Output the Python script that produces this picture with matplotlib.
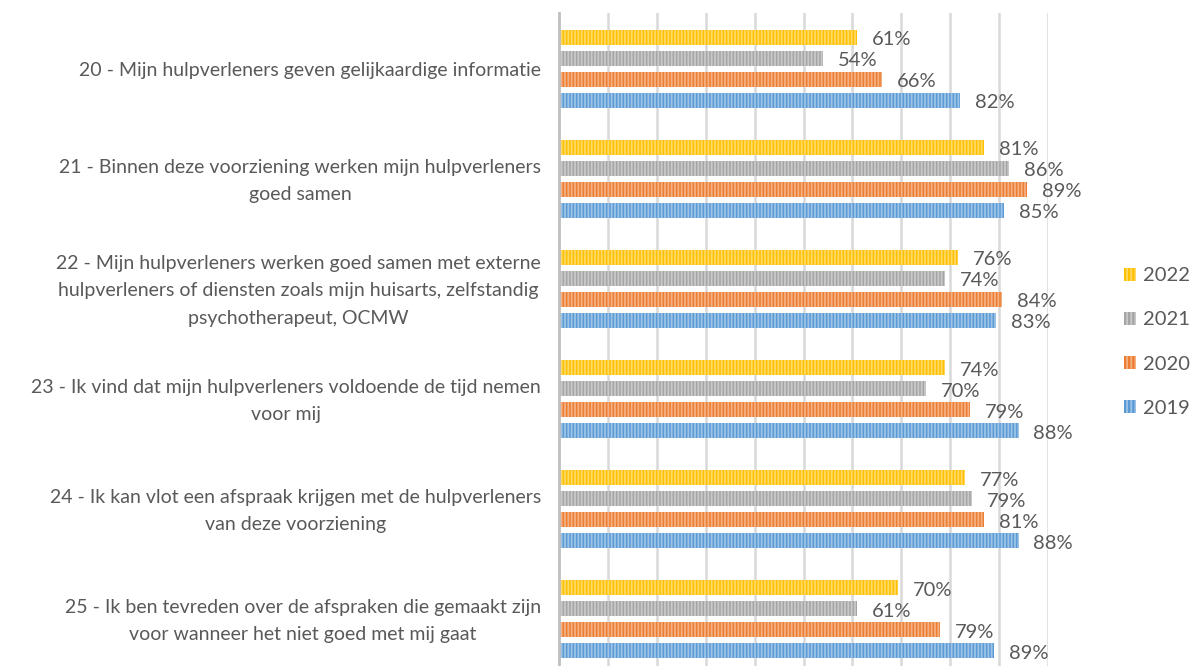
import numpy as np
import matplotlib
matplotlib.use('Agg')
import matplotlib.pyplot as plt
from matplotlib.patches import Patch

plt.rcParams['font.family'] = ['Lato', 'DejaVu Sans']
plt.rcParams['hatch.linewidth'] = 1.3

# questions (top to bottom)
questions = [
    "20 - Mijn hulpverleners geven gelijkaardige informatie",
    "21 - Binnen deze voorziening werken mijn hulpverleners\ngoed samen",
    "22 - Mijn hulpverleners werken goed samen met externe\nhulpverleners of diensten zoals mijn huisarts, zelfstandig\npsychotherapeut, OCMW",
    "23 - Ik vind dat mijn hulpverleners voldoende de tijd nemen\nvoor mij",
    "24 - Ik kan vlot een afspraak krijgen met de hulpverleners\nvan deze voorziening",
    "25 - Ik ben tevreden over de afspraken die gemaakt zijn\nvoor wanneer het niet goed met mij gaat",
]
years = ['2022', '2021', '2020', '2019']

# bar lengths as drawn in the picture (% of axis)
bars_2022 = [61, 87, 81.6, 79, 83, 69.3]
bars_2021 = [54, 92, 79, 75, 84.5, 61]
bars_2020 = [66, 95.7, 90.6, 84, 87, 78]
bars_2019 = [82, 91, 89.4, 94, 94, 89]

# data labels as printed
lab_2022 = [61, 81, 76, 74, 77, 70]
lab_2021 = [54, 86, 74, 70, 79, 61]
lab_2020 = [66, 89, 84, 79, 81, 79]
lab_2019 = [82, 85, 83, 88, 88, 89]

colors = ['#FFC000', '#A5A5A5', '#ED7D31', '#5B9BD5']
stripes = ['#FFD966', '#C9C9C9', '#F4B183', '#9DC3E6']

bars = [bars_2022, bars_2021, bars_2020, bars_2019]
labels = [lab_2022, lab_2021, lab_2020, lab_2019]

fig = plt.figure(figsize=(11.95, 6.66), dpi=100)
ax = fig.add_axes([559 / 1195, 0.0, (1048 - 559) / 1195, 1 - 13 / 666])

pitch = 21 / 110
height = 15 / 110
y = np.arange(len(questions))
for k in range(4):
    pos = y - 1.5 * pitch + k * pitch
    ax.barh(pos, bars[k], height=height, color=colors[k], edgecolor=stripes[k],
            linewidth=0, hatch='|||||', zorder=3)
    for p, b, l in zip(pos, bars[k], labels[k]):
        ax.text(b + 3.0, p + 0.025, f"{l}%", va='center', ha='left',
                fontsize=14.5, color='#595959', clip_on=False)

ax.set_xlim(0, 100)
ax.set_ylim(5 + 47 / 110, -55.5 / 110)
ax.set_xticks(np.arange(10, 101, 10))
ax.set_xticklabels([])
ax.tick_params(length=0)
ax.grid(axis='x', color='#D9D9D9', linewidth=1.8, zorder=0)
ax.set_yticks([])
for s in ['top', 'right', 'bottom']:
    ax.spines[s].set_visible(False)
ax.spines['left'].set_color('#BFBFBF')
ax.spines['left'].set_linewidth(2)
ax.spines['left'].set_zorder(4)

for i, q in enumerate(questions):
    ax.text(-3.7, i + 0.02, q, ha='right', va='center', multialignment='center',
            fontsize=14, color='#595959', linespacing=1.75, transform=ax.transData)

handles = [Patch(facecolor=colors[k], edgecolor=stripes[k], linewidth=0, hatch='||||')
           for k in range(4)]
fig.legend(handles, years, loc='center left', bbox_to_anchor=(1124 / 1195, 1 - 342 / 666),
           frameon=False, fontsize=14.5, labelcolor='#595959', handlelength=0.6,
           handleheight=0.6, handletextpad=0.35, labelspacing=1.35, borderpad=0,
           borderaxespad=0)

fig.savefig('out.png', dpi=100)
